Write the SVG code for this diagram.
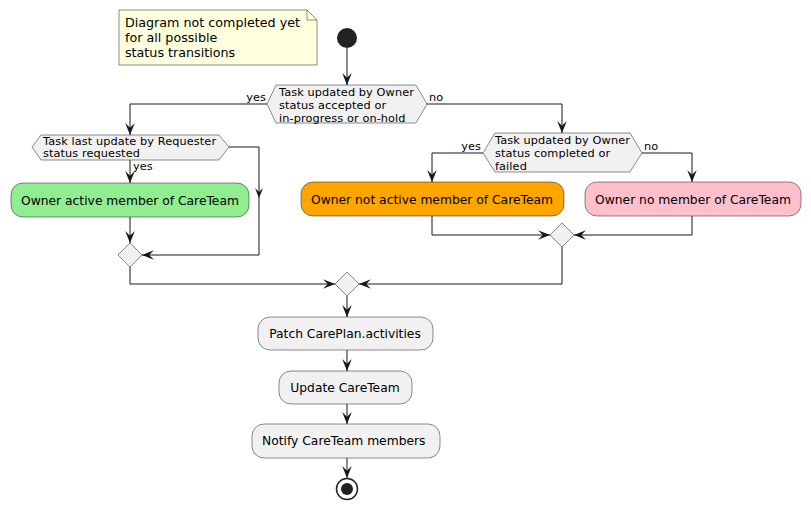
<svg xmlns="http://www.w3.org/2000/svg" width="811" height="510" viewBox="0 0 811 510">
<style>
.box{fill:#F1F1F1;stroke:#181818;stroke-width:0.5}
.dia{fill:#F1F1F1;stroke:#181818;stroke-width:0.5}
.ln{fill:none;stroke:#181818;stroke-width:1}
.t{font-family:"DejaVu Sans",sans-serif;font-size:12.3px;fill:#000}
.d{font-family:"DejaVu Sans",sans-serif;font-size:11.3px;letter-spacing:0.1px;fill:#000}
.n{font-family:"DejaVu Sans",sans-serif;font-size:12.7px;fill:#000}
</style>
<defs>
<marker id="ah" markerUnits="userSpaceOnUse" markerWidth="12" markerHeight="10" refX="10" refY="4" orient="auto" viewBox="0 0 10 8">
<path d="M0,0 L10,4 L0,8 L4,4 Z" fill="#181818"/>
</marker>
</defs>
<g id="note">
<path d="M119,10 L307,10 L317,20 L317,65 L119,65 Z" fill="#FEFFDD" stroke="#181818" stroke-width="0.5"/>
<path d="M307,10 L307,20 L317,20" fill="none" stroke="#181818" stroke-width="0.5"/>
<text class="n" x="125" y="27">Diagram not completed yet</text>
<text class="n" x="125" y="42">for all possible</text>
<text class="n" x="125" y="57">status transitions</text>
</g>
<g id="start"><circle cx="347" cy="38" r="10" fill="#222222"/></g>
<g id="d1">
<polygon class="dia" points="276,85 416,85 427,104 416,123 276,123 267,104"/>
<text class="d" x="279" y="96">Task updated by Owner</text>
<text class="d" x="279" y="109">status accepted or</text>
<text class="d" x="279" y="122">in-progress or on-hold</text>
</g>
<g id="d2">
<polygon class="dia" points="41,135 219,135 229,147 219,160 41,160 32,147"/>
<text class="d" x="43" y="145">Task last update by Requester</text>
<text class="d" x="43" y="157">status requested</text>
</g>
<g id="a1">
<rect class="box" x="11" y="183" width="238" height="34" rx="12" style="fill:#90EE90"/>
<text class="t" x="130" y="205" text-anchor="middle">Owner active member of CareTeam</text>
</g>
<g id="m1"><polygon class="dia" points="130,243 142,255 130,267 118,255"/></g>
<g id="d3">
<polygon class="dia" points="495,133 630,133 642,153 630,172 495,172 483,153"/>
<text class="d" x="495" y="144">Task updated by Owner</text>
<text class="d" x="495" y="157">status completed or</text>
<text class="d" x="495" y="170">failed</text>
</g>
<g id="a2">
<rect class="box" x="301" y="182" width="263" height="34" rx="12" style="fill:#FFA500"/>
<text class="t" x="432" y="204" text-anchor="middle">Owner not active member of CareTeam</text>
</g>
<g id="a3">
<rect class="box" x="585" y="182" width="216" height="34" rx="12" style="fill:#FFC0CB"/>
<text class="t" x="693" y="204" text-anchor="middle">Owner no member of CareTeam</text>
</g>
<g id="m2"><polygon class="dia" points="562,223 574,235 562,247 550,235"/></g>
<g id="m3"><polygon class="dia" points="347,272 359,284 347,296 335,284"/></g>
<g id="a4">
<rect class="box" x="258" y="317" width="175" height="33" rx="12"/>
<text class="t" x="345" y="338" text-anchor="middle">Patch CarePlan.activities</text>
</g>
<g id="a5">
<rect class="box" x="279" y="371" width="133" height="33" rx="12"/>
<text class="t" x="345" y="392" text-anchor="middle">Update CareTeam</text>
</g>
<g id="a6">
<rect class="box" x="252" y="424" width="188" height="34" rx="12"/>
<text class="t" x="262" y="445">Notify CareTeam members</text>
</g>
<g id="end">
<circle cx="347" cy="489" r="10.5" fill="none" stroke="#222222" stroke-width="1.5"/>
<circle cx="347" cy="489" r="6" fill="#222222"/>
</g>
<g id="connectors">
<path class="ln" d="M347,48 L347,85" marker-end="url(#ah)"/>
<path class="ln" d="M267,104 L130,104 L130,135" marker-end="url(#ah)"/>
<path class="ln" d="M427,104 L562,104 L562,133" marker-end="url(#ah)"/>
<path class="ln" d="M130,160 L130,183" marker-end="url(#ah)"/>
<path class="ln" d="M229,147 L259,147 L259,255 L142,255" marker-end="url(#ah)"/>
<path d="M255,188 L259,198 L263,188 L259,192 Z" fill="#181818"/>
<path class="ln" d="M130,217 L130,243" marker-end="url(#ah)"/>
<path class="ln" d="M130,267 L130,284 L335,284" marker-end="url(#ah)"/>
<path class="ln" d="M483,153 L432,153 L432,182" marker-end="url(#ah)"/>
<path class="ln" d="M642,153 L692,153 L692,182" marker-end="url(#ah)"/>
<path class="ln" d="M432,216 L432,235 L550,235" marker-end="url(#ah)"/>
<path class="ln" d="M692,216 L692,235 L574,235" marker-end="url(#ah)"/>
<path class="ln" d="M562,247 L562,284 L359,284" marker-end="url(#ah)"/>
<path class="ln" d="M347,296 L347,317" marker-end="url(#ah)"/>
<path class="ln" d="M347,350 L347,371" marker-end="url(#ah)"/>
<path class="ln" d="M347,404 L347,424" marker-end="url(#ah)"/>
<path class="ln" d="M347,458 L347,478" marker-end="url(#ah)"/>
<text class="d" x="266" y="101" text-anchor="end">yes</text>
<text class="d" x="429" y="101">no</text>
<text class="d" x="133" y="170">yes</text>
<text class="d" x="481" y="150" text-anchor="end">yes</text>
<text class="d" x="644" y="150">no</text>
</g>
</svg>
